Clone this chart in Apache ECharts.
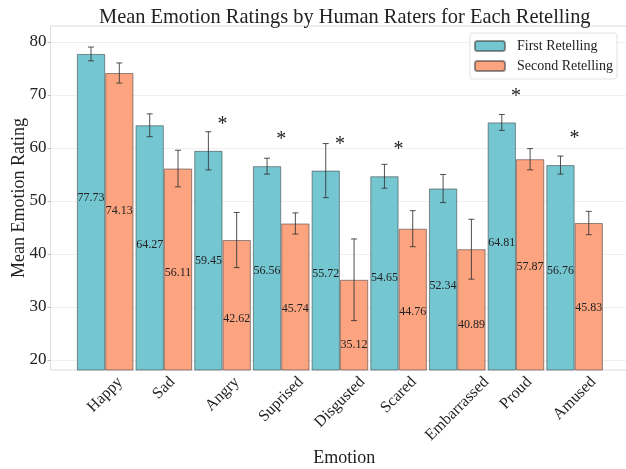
<!DOCTYPE html>
<html>
<head>
<meta charset="utf-8">
<script src="https://cdn.jsdelivr.net/npm/echarts@6/dist/echarts.min.js"></script>
<style>
  html, body { margin: 0; padding: 0; background: #fff; }
  #chart { width: 626px; height: 469px; }
</style>
</head>
<body>
<div id="chart"></div>
<script>
var categories = ['Happy', 'Sad', 'Angry', 'Suprised', 'Disgusted', 'Scared', 'Embarrassed', 'Proud', 'Amused'];
var firstValues = [77.73, 64.27, 59.45, 56.56, 55.72, 54.65, 52.34, 64.81, 56.76];
var secondValues = [74.13, 56.11, 42.62, 45.74, 35.12, 44.76, 40.89, 57.87, 45.83];
var firstErr = [1.3, 2.15, 3.6, 1.5, 5.1, 2.25, 2.65, 1.5, 1.7];
var secondErr = [1.9, 3.45, 5.2, 2.0, 7.7, 3.4, 5.65, 2.0, 2.2];
var starCats = ['Angry', 'Suprised', 'Disgusted', 'Scared', 'Proud', 'Amused'];
var starY = [65.3, 62.5, 61.5, 60.6, 70.6, 62.6];
var yTicks = [20, 30, 40, 50, 60, 70, 80];

var FONT = '"Liberation Serif", "Times New Roman", serif';
var BAR_W = 28.3;
var TEAL = '#74c6d1';
var SALMON = '#fca37f';
var EDGE = 'rgba(60,60,60,0.55)';

var chart = echarts.init(document.getElementById('chart'));

// text width, used to centre the rotated category labels like matplotlib does
var measure = document.createElement('canvas').getContext('2d');
measure.font = '16px ' + FONT;

function pairs(vals, errs) {
    return vals.map(function (v, i) { return [i, v, errs ? errs[i] : 0]; });
}

// error bar + value text for one bar of each pair (side -1 left bar, 1 right bar)
function errRender(side) {
    return function (params, api) {
        var x = api.value(0), v = api.value(1), e = api.value(2);
        var top = api.coord([x, v + e]);
        var bot = api.coord([x, v - e]);
        var lab = api.coord([x, v * 0.65]);
        var cx = top[0] + side * BAR_W / 2;
        var st = { stroke: 'rgba(50,50,50,0.85)', lineWidth: 1 };
        return {
            type: 'group',
            children: [
                { type: 'line', shape: { x1: cx, y1: top[1], x2: cx, y2: bot[1] }, style: st },
                { type: 'line', shape: { x1: cx - 3, y1: top[1], x2: cx + 3, y2: top[1] }, style: st },
                { type: 'line', shape: { x1: cx - 3, y1: bot[1], x2: cx + 3, y2: bot[1] }, style: st },
                { type: 'text', x: cx, y: lab[1], style: {
                    text: v.toFixed(2), fill: '#222', font: '12px ' + FONT,
                    align: 'center', verticalAlign: 'middle' } }
            ]
        };
    };
}

chart.setOption({
    animation: false,
    title: {
        text: 'Mean Emotion Ratings by Human Raters for Each Retelling',
        left: 94,
        top: 3,
        textStyle: { fontFamily: FONT, fontSize: 20.4, fontWeight: 'normal', color: '#222' }
    },
    legend: {
        data: ['First Retelling', 'Second Retelling'],
        orient: 'vertical',
        right: 9,
        top: 33,
        itemWidth: 30,
        itemHeight: 10,
        itemGap: 6,
        padding: [6, 4, 6, 4],
        backgroundColor: '#fff',
        borderColor: '#e2e2e2',
        borderWidth: 1,
        borderRadius: 3,
        textStyle: { fontFamily: FONT, fontSize: 14, color: '#222', padding: [0, 0, 0, 7] }
    },
    grid: {
        left: 50.6,
        right: -12,
        top: 26,
        bottom: 99,
        outerBoundsMode: 'none',
        containLabel: false,
        show: true,
        borderColor: '#dcdcdc',
        borderWidth: 1
    },
    xAxis: {
        type: 'value',
        min: -0.93,
        max: 9.08,
        axisLine: { show: false, onZero: false },
        axisTick: { show: false },
        axisLabel: { show: false },
        splitLine: { show: false },
        name: 'Emotion',
        nameLocation: 'middle',
        nameGap: 79,
        nameTextStyle: { fontFamily: FONT, fontSize: 18, color: '#222' }
    },
    yAxis: {
        type: 'value',
        min: 18.1,
        max: 83,
        axisLine: { show: false, onZero: false },
        axisTick: { show: true, length: 3, lineStyle: { color: '#bbb' }, customValues: yTicks },
        axisLabel: { fontFamily: FONT, fontSize: 17, color: '#222', margin: 4, customValues: yTicks },
        splitLine: { show: true, lineStyle: { color: '#f0f0f0' } },
        name: 'Mean Emotion Rating',
        nameLocation: 'middle',
        nameGap: 22,
        nameMoveOverlap: false,
        nameTextStyle: { fontFamily: FONT, fontSize: 18, color: '#222' }
    },
    series: [
        {
            name: 'First Retelling',
            type: 'bar',
            data: pairs(firstValues),
            barWidth: BAR_W,
            barGap: '0%',
            itemStyle: { color: TEAL, borderColor: EDGE, borderWidth: 1 }
        },
        {
            name: 'Second Retelling',
            type: 'bar',
            data: pairs(secondValues),
            barWidth: BAR_W,
            barGap: '0%',
            itemStyle: { color: SALMON, borderColor: EDGE, borderWidth: 1 }
        },
        {
            type: 'custom',
            z: 5,
            data: pairs(firstValues, firstErr),
            renderItem: errRender(-1)
        },
        {
            type: 'custom',
            z: 5,
            data: pairs(secondValues, secondErr),
            renderItem: errRender(1)
        },
        {
            // significance stars
            type: 'custom',
            z: 5,
            data: starCats.map(function (c, i) { return [categories.indexOf(c), starY[i]]; }),
            renderItem: function (params, api) {
                var p = api.coord([api.value(0), api.value(1)]);
                return { type: 'text', x: p[0], y: p[1] + 5, style: {
                    text: '*', fill: '#222', font: '20px ' + FONT,
                    align: 'center', verticalAlign: 'middle' } };
            }
        },
        {
            // rotated category labels
            type: 'custom',
            z: 5,
            clip: false,
            data: categories.map(function (c, i) { return [i, 0]; }),
            renderItem: function (params, api) {
                var i = api.value(0);
                var name = categories[i];
                var cs = params.coordSys;
                var px = api.coord([i, 50])[0];
                var w = measure.measureText(name).width;
                var h = (w + 16) * Math.SQRT1_2;
                return { type: 'text', x: px, y: cs.y + cs.height + 4 + h / 2, rotation: Math.PI / 4,
                    style: { text: name, fill: '#222', font: '16px ' + FONT,
                        align: 'center', verticalAlign: 'middle' } };
            }
        }
    ]
});
</script>
</body>
</html>
